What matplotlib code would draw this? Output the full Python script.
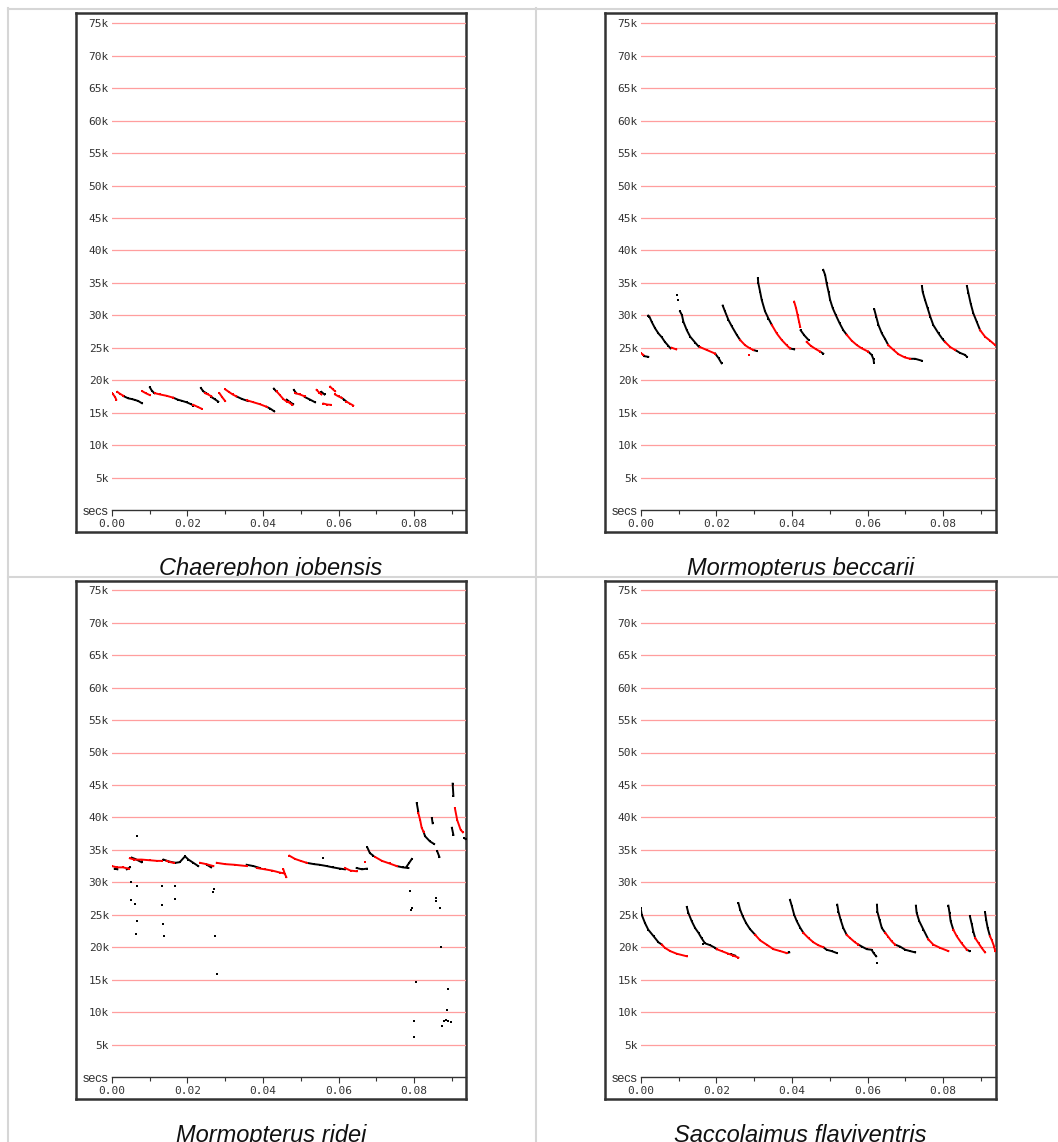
import numpy as np
import matplotlib
matplotlib.use('Agg')
import matplotlib.pyplot as plt
from matplotlib.lines import Line2D
from matplotlib.ticker import MultipleLocator, FuncFormatter

# ---- data: time in ms, frequency in kHz ----
# Chaerephon jobensis
cj_black = [
    ([3.3, 4.4, 5.3, 6.2, 7.0, 8.0], [17.5, 17.2, 17.1, 16.95, 16.8, 16.45]),
    ([10.1, 10.6, 11.3], [18.9, 18.4, 18.0]),
    ([16.3, 17.5, 18.7, 19.8, 21.0, 21.6], [17.3, 17.0, 16.8, 16.6, 16.3, 16.1]),
    ([23.6, 24.2, 25.0], [18.8, 18.3, 18.0]),
    ([26.4, 27.2, 28.2], [17.4, 17.1, 16.7]),
    ([33.0, 34.5, 36.0], [17.5, 17.1, 16.8]),
    ([41.0, 42.0, 43.0], [15.9, 15.6, 15.2]),
    ([42.9, 43.5], [18.7, 18.3]),
    ([46.3, 47.2, 48.0], [17.0, 16.6, 16.3]),
    ([48.2, 48.8], [18.5, 18.0]),
    ([51.1, 52.5, 53.8], [17.4, 17.0, 16.6]),
    ([55.5, 56.3], [18.2, 17.8]),
    ([60.8, 61.5, 62.1], [17.3, 17.0, 16.7]),
]
cj_red = [
    ([0.0, 0.4, 0.9, 1.2], [18.0, 17.8, 17.4, 17.0]),
    ([1.5, 2.2, 3.1], [18.2, 17.9, 17.6]),
    ([8.1, 9.0, 10.1], [18.3, 18.0, 17.7]),
    ([11.4, 12.8, 14.5, 16.3], [18.0, 17.8, 17.6, 17.3]),
    ([21.6, 22.7, 23.8], [16.2, 15.9, 15.6]),
    ([24.7, 25.5, 26.4], [18.0, 17.8, 17.5]),
    ([28.5, 29.2, 30.0], [18.0, 17.4, 16.8]),
    ([30.0, 31.0, 32.0, 33.0], [18.6, 18.2, 17.8, 17.5]),
    ([35.8, 37.5, 39.2, 41.0], [16.9, 16.6, 16.3, 15.9]),
    ([43.6, 44.5, 45.4, 46.3], [18.3, 17.7, 17.1, 16.7]),
    ([46.8, 47.8], [16.6, 16.2]),
    ([48.6, 49.8, 51.1], [18.0, 17.8, 17.5]),
    ([54.2, 54.9, 55.5], [18.5, 18.1, 17.8]),
    ([56.0, 57.0, 58.0], [16.4, 16.25, 16.2]),
    ([57.8, 58.5, 59.1], [19.0, 18.6, 18.3]),
    ([59.1, 60.0, 60.8], [17.8, 17.5, 17.3]),
    ([62.1, 63.0, 63.9], [16.7, 16.4, 16.1]),
]
cj_dots_t, cj_dots_f = [], []
cj_rdots_t, cj_rdots_f = [], []

# Mormopterus beccarii
mb_black = [
    ([1.0, 2.0], [23.7, 23.6]),
    ([2.0, 2.3, 2.9, 3.8, 4.7, 5.6, 6.4, 7.3, 7.9], [29.95, 29.8, 29.0, 28.0, 27.2, 26.6, 25.9, 25.3, 24.9]),
    ([10.4, 10.9, 11.3, 12.2, 13.1, 14.4, 15.3], [30.6, 30.05, 29.0, 27.7, 26.7, 25.8, 25.2]),
    ([19.7, 20.6, 21.4], [24.1, 23.4, 22.6]),
    ([21.7, 22.3, 23.2, 24.1, 25.4, 26.3], [31.5, 30.6, 29.3, 28.3, 27.0, 26.2]),
    ([29.8, 30.7], [24.65, 24.5]),
    ([31.0, 31.1, 31.6, 32.0, 32.9, 33.8, 34.7], [35.7, 35.0, 33.6, 32.4, 30.6, 29.5, 28.5]),
    ([39.5, 40.6], [24.9, 24.75]),
    ([42.3, 43.3, 44.4], [27.7, 26.9, 26.2]),
    ([47.5, 48.3], [24.4, 24.1]),
    ([48.3, 48.8, 49.2, 49.7, 50.1, 50.8, 51.6, 52.6, 53.6, 54.5],
     [37.0, 36.2, 34.9, 33.6, 32.4, 31.1, 30.05, 28.8, 27.7, 27.0]),
    ([60.2, 61.1, 61.6, 61.7], [24.4, 23.9, 23.2, 22.7]),
    ([61.8, 62.3, 62.9, 63.8, 64.7, 65.5], [30.9, 29.8, 28.5, 27.2, 26.3, 25.4]),
    ([71.3, 72.6, 74.4], [23.3, 23.3, 23.0]),
    ([74.4, 74.6, 75.2, 75.9, 76.6, 77.4, 78.8, 79.9, 80.5],
     [34.5, 33.6, 32.4, 31.1, 29.8, 28.5, 27.2, 26.3, 25.9]),
    ([83.2, 84.5, 85.8, 86.3], [24.65, 24.2, 23.9, 23.6]),
    ([86.3, 86.7, 87.3, 88.0, 88.9, 89.8], [34.5, 33.4, 31.8, 30.3, 29.0, 27.7]),
]
mb_red = [
    ([0.0, 0.7], [24.2, 23.9]),
    ([8.2, 9.4], [25.0, 24.75]),
    ([15.7, 17.5, 19.7], [25.1, 24.65, 24.1]),
    ([26.3, 27.6, 28.9, 29.8], [26.2, 25.4, 24.9, 24.65]),
    ([34.7, 36.0, 37.3, 38.6, 39.5], [28.5, 27.2, 26.2, 25.4, 24.9]),
    ([40.6, 41.1, 41.5, 41.9, 42.2], [32.1, 31.1, 30.05, 29.0, 28.2]),
    ([43.9, 45.0, 46.3, 47.5], [25.9, 25.3, 24.8, 24.4]),
    ([54.5, 55.8, 57.2, 58.5, 60.2], [27.0, 26.1, 25.4, 24.9, 24.4]),
    ([65.5, 66.9, 68.2, 69.9, 71.3], [25.4, 24.65, 24.0, 23.5, 23.3]),
    ([80.5, 81.9, 83.2], [25.9, 25.1, 24.65]),
    ([89.8, 91.1, 92.4, 93.8], [27.7, 26.7, 26.1, 25.4]),
]
mb_dots_t, mb_dots_f = [9.5, 9.8], [33.1, 32.3]
mb_rdots_t, mb_rdots_f = [28.6], [23.9]

# Mormopterus ridei
mr_black = [
    ([0.8, 1.5], [32.1, 32.0]),
    ([4.0, 4.8], [32.0, 32.3]),
    ([5.3, 6.2, 7.9], [33.8, 33.6, 33.1]),
    ([13.7, 15.2, 16.8], [33.5, 33.2, 33.0]),
    ([16.8, 18.0, 19.4, 20.3, 21.6, 22.9], [33.0, 33.1, 34.0, 33.5, 33.0, 32.5]),
    ([25.2, 26.3], [32.7, 32.3]),
    ([35.7, 37.5, 39.2], [32.7, 32.5, 32.2]),
    ([51.6, 53.5, 55.0, 56.9, 58.5, 60.5, 61.7], [33.0, 32.8, 32.7, 32.5, 32.3, 32.1, 32.0]),
    ([64.8, 66.2, 67.5], [32.2, 32.0, 32.1]),
    ([67.6, 68.3, 69.2], [35.4, 34.5, 34.1]),
    ([75.4, 77.0, 78.5], [32.5, 32.3, 32.2]),
    ([78.0, 78.7, 79.4], [32.4, 33.0, 33.6]),
    ([80.7, 81.1], [42.2, 40.9]),
    ([82.5, 82.9, 84.2, 85.3], [37.8, 37.1, 36.3, 35.9]),
    ([84.7, 84.9], [39.9, 39.1]),
    ([86.1, 86.7], [34.8, 33.9]),
    ([90.2, 90.4], [45.2, 43.3]),
    ([90.0, 90.4], [38.4, 37.3]),
    ([93.3, 93.8], [36.8, 36.6]),
]
mr_red = [
    ([0.0, 1.5, 3.0, 4.5], [32.5, 32.3, 32.3, 32.1]),
    ([4.8, 6.0, 7.9, 10.0, 12.0, 13.2], [33.7, 33.5, 33.5, 33.4, 33.3, 33.3]),
    ([14.5, 15.5, 16.5], [33.3, 33.1, 33.0]),
    ([23.4, 25.0, 26.9], [33.0, 32.8, 32.5]),
    ([27.8, 30.0, 32.5, 35.7], [33.0, 32.8, 32.7, 32.5]),
    ([38.4, 40.5, 42.5, 44.5, 45.4], [32.2, 32.0, 31.8, 31.5, 31.4]),
    ([45.4, 45.8, 46.2], [32.0, 31.3, 30.8]),
    ([47.0, 48.5, 50.0, 51.6], [34.1, 33.6, 33.3, 33.0]),
    ([61.7, 63.2, 64.8], [32.2, 31.8, 31.7]),
    ([69.7, 71.5, 73.5, 75.4], [33.9, 33.3, 32.9, 32.5]),
    ([81.1, 81.6, 82.0, 82.5], [40.7, 39.6, 38.4, 37.8]),
    ([90.8, 91.4, 92.3, 92.9], [41.4, 39.6, 38.1, 37.7]),
]
mr_dots_t = [6.6, 5.0, 6.6, 5.1, 6.1, 6.6, 6.4, 13.2, 13.2, 13.7, 13.8, 16.8, 16.8,
             26.9, 27.0, 27.3, 27.8, 56.0, 78.9, 79.4, 79.1, 85.8, 85.8, 86.9, 87.1,
             80.5, 80.0, 80.0, 88.9, 88.6, 87.3, 87.9, 88.5, 89.1, 89.7, 79.4]
mr_dots_f = [37.2, 30.0, 29.5, 27.2, 26.7, 24.0, 22.1, 29.4, 26.45, 23.6, 21.7, 29.5, 27.4,
             28.5, 29.0, 21.7, 15.8, 33.7, 28.6, 26.0, 25.8, 27.6, 27.1, 26.0, 20.1,
             14.7, 8.6, 6.2, 13.5, 10.4, 7.9, 8.7, 8.8, 8.6, 8.4, 33.6]
mr_rdots_t, mr_rdots_f = [67.0], [33.2]

# Saccolaimus flaviventris
sf_black = [
    ([0.0, 0.27, 1.15, 2.0, 3.4, 4.7, 5.6], [26.0, 25.0, 23.7, 22.7, 21.7, 20.75, 20.4]),
    ([12.2, 12.6, 13.5, 14.4, 15.3, 16.1, 17.0, 18.4, 19.7, 20.1],
     [26.2, 25.3, 24.0, 22.95, 22.2, 21.4, 20.6, 20.3, 19.9, 19.7]),
    ([24.0, 25.0], [18.9, 18.7]),
    ([25.85, 26.3, 27.0, 27.9, 28.9, 30.3], [26.8, 25.8, 24.75, 23.7, 22.8, 21.9]),
    ([38.6, 39.3], [19.1, 19.2]),
    ([39.5, 40.0, 40.6, 41.3, 42.2, 43.05], [27.3, 26.3, 25.0, 24.0, 23.0, 22.2]),
    ([48.3, 49.2, 50.5, 51.9], [20.0, 19.6, 19.4, 19.1]),
    ([52.0, 52.3, 52.9, 53.6, 54.5], [26.55, 25.5, 24.2, 22.95, 21.9]),
    ([57.6, 58.5, 59.8, 61.1, 61.6, 62.3], [20.4, 20.1, 19.7, 19.6, 19.1, 18.6]),
    ([62.5, 62.6, 63.2, 63.8, 64.7], [26.55, 25.5, 24.2, 22.95, 22.2]),
    ([67.3, 68.6, 70.0, 71.3, 72.6], [20.4, 20.1, 19.6, 19.4, 19.2]),
    ([72.8, 73.0, 73.7, 74.8, 76.1], [26.4, 25.3, 24.0, 22.7, 21.2]),
    ([81.4, 81.7, 82.0, 82.7], [26.4, 25.3, 24.0, 22.7]),
    ([86.3, 87.0], [19.6, 19.4]),
    ([87.1, 87.6, 88.0, 88.5], [24.75, 23.5, 22.4, 21.4]),
    ([91.1, 91.4, 91.8, 92.4], [25.35, 24.2, 22.95, 21.7]),
]
sf_red = [
    ([5.6, 6.4, 7.8, 9.5, 12.2], [20.4, 19.9, 19.4, 19.0, 18.6]),
    ([20.1, 21.4, 23.2, 24.5, 25.85], [19.7, 19.4, 19.0, 18.7, 18.4]),
    ([30.3, 31.6, 33.3, 35.1, 36.9, 38.6], [21.9, 21.05, 20.4, 19.7, 19.4, 19.1]),
    ([43.05, 44.4, 45.7, 47.0, 48.3], [22.2, 21.4, 20.75, 20.3, 20.0]),
    ([54.5, 55.4, 56.7, 57.6], [21.9, 21.4, 20.75, 20.4]),
    ([64.7, 65.5, 66.4, 67.3], [22.2, 21.6, 20.9, 20.4]),
    ([76.1, 77.4, 79.2, 81.4], [21.2, 20.4, 19.9, 19.4]),
    ([82.7, 83.6, 84.9, 86.3], [22.7, 21.7, 20.6, 19.6]),
    ([88.5, 89.4, 90.2, 91.1], [21.4, 20.6, 19.9, 19.2]),
    ([92.4, 92.9, 93.5, 93.8], [21.7, 21.05, 20.1, 19.4]),
]
sf_dots_t, sf_dots_f = [62.5, 16.6], [17.6, 20.5]
sf_rdots_t, sf_rdots_f = [], []

species = ['Chaerephon jobensis', 'Mormopterus beccarii',
           'Mormopterus ridei', 'Saccolaimus flaviventris']
freq_ticks = list(range(5, 80, 5))

# ---- layout (pixels) ----
W, H = 1058, 1142
PX_PER_MS = 3.78
PX_PER_KHZ = 6.49
frames = [(76, 13, 466, 532), (605, 13, 996, 532),
          (76, 581, 466, 1099), (605, 581, 996, 1099)]
cells = [(8, 9, 536, 577), (536, 9, W, 577), (8, 577, 536, H), (536, 577, W, H)]
caption_base = [575, 575, 1142, 1142]

panels = [
    (cj_black, cj_red, cj_dots_t, cj_dots_f, cj_rdots_t, cj_rdots_f),
    (mb_black, mb_red, mb_dots_t, mb_dots_f, mb_rdots_t, mb_rdots_f),
    (mr_black, mr_red, mr_dots_t, mr_dots_f, mr_rdots_t, mr_rdots_f),
    (sf_black, sf_red, sf_dots_t, sf_dots_f, sf_rdots_t, sf_rdots_f),
]

plt.rcParams['font.family'] = 'DejaVu Sans Mono'
fig = plt.figure(figsize=(W / 100, H / 100), dpi=100)


def rect(x0, y0, x1, y1):
    return [x0 / W, 1 - y1 / H, (x1 - x0) / W, (y1 - y0) / H]


for i, (blk, red, dt, df, rdt, rdf) in enumerate(panels):
    # caption, clipped by the cell border
    cx0, cy0, cx1, cy1 = cells[i]
    cell = fig.add_axes(rect(cx0, cy0, cx1, cy1))
    cell.set_xlim(cx0, cx1)
    cell.set_ylim(cy1, cy0)
    cell.axis('off')
    fx0, fy0, fx1, fy1 = frames[i]
    cell.text((fx0 + fx1) / 2, caption_base[i], species[i], ha='center', va='baseline',
              fontsize=17, style='italic', family='Liberation Sans', color='#111111',
              clip_on=True)

    # outer frame
    fr = fig.add_axes(rect(fx0, fy0, fx1, fy1))
    fr.set_xticks([])
    fr.set_yticks([])
    fr.patch.set_facecolor('white')
    for s in fr.spines.values():
        s.set_linewidth(1.8)
        s.set_color('#333333')

    # data area
    dx0 = fx0 + 35.7
    dy1 = fy1 - 22
    ax = fig.add_axes(rect(dx0, fy0, fx1, dy1))
    ax.patch.set_alpha(0)
    ax.set_xlim(0, (fx1 - dx0) / PX_PER_MS / 1000)
    ax.set_ylim(0, (dy1 - fy0) / PX_PER_KHZ)
    for s in ['top', 'right', 'left']:
        ax.spines[s].set_visible(False)
    ax.spines['bottom'].set_color('#333333')
    ax.spines['bottom'].set_linewidth(1.0)

    ax.xaxis.set_major_locator(MultipleLocator(0.02))
    ax.xaxis.set_minor_locator(MultipleLocator(0.01))
    ax.xaxis.set_major_formatter(FuncFormatter(lambda v, p: f'{v:.2f}'))
    ax.tick_params(axis='x', which='major', direction='out', length=4.5, width=0.8,
                   color='#333333', labelsize=8, labelcolor='#333333', pad=2)
    ax.tick_params(axis='x', which='minor', direction='out', length=2.8, width=0.8,
                   color='#333333')
    ax.set_yticks(freq_ticks)
    ax.set_yticklabels([f'{v}k' for v in freq_ticks])
    ax.tick_params(axis='y', length=0, pad=2, labelsize=8, labelcolor='#333333')
    ax.grid(axis='y', color='#ff9e9e', lw=0.9)
    ax.set_axisbelow(True)

    ax.text(-0.008, -5 / (dy1 - fy0), 'secs', transform=ax.transAxes, ha='right',
            va='baseline', fontsize=9, family='Liberation Sans', color='#333333')

    for t, f in blk:
        ax.plot(np.array(t) / 1000, f, color='black', lw=1.4, marker='s', ms=1.8, mew=0)
    for t, f in red:
        ax.plot(np.array(t) / 1000, f, color='#ff0000', lw=1.4, marker='s', ms=1.8, mew=0)
    ax.plot(np.array(dt) / 1000, df, ls='none', color='black', marker='s', ms=2.0, mew=0)
    ax.plot(np.array(rdt) / 1000, rdf, ls='none', color='#ff0000', marker='s', ms=2.0, mew=0)

# light grey table borders
grey = '#d6d6d6'
for x in [8, 536]:
    fig.add_artist(Line2D([x / W, x / W], [1 - 8 / H, 0], color=grey, lw=1.5))
for y in [9, 577]:
    fig.add_artist(Line2D([8 / W, 1], [1 - y / H, 1 - y / H], color=grey, lw=1.5))

fig.savefig('out.png', dpi=100, facecolor='white')
